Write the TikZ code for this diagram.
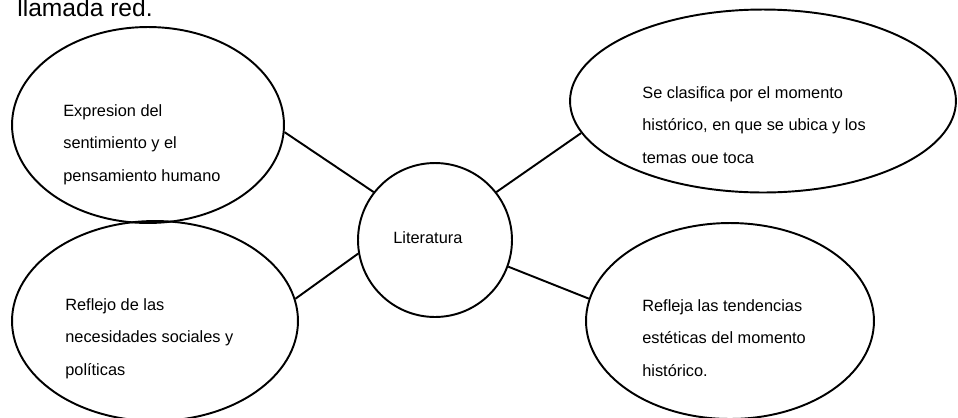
\documentclass[tikz,border=0pt]{standalone}
\usepackage{fontspec}
\setmainfont{Liberation Sans}
\usetikzlibrary{shapes.geometric}

\begin{document}
\begin{tikzpicture}[x=0.02cm, y=-0.02cm,
	burbuja/.style={draw, ellipse, line width=1.1pt, inner sep=0pt},
	texto/.style={anchor=base west, align=left, inner sep=0pt, font=\fontsize{9.3}{18.5}\selectfont},
	enlace/.style={line width=1.1pt}]
			\useasboundingbox (0,0) rectangle (958,417);

			\node[anchor=base west, inner sep=0pt, font=\fontsize{14}{16}\selectfont] (titulo) at (17,16) {llamada red.};

			\node[burbuja, minimum width=5.44cm, minimum height=3.92cm] (expresion) at (148,125) {};
			\node[burbuja, minimum width=5.72cm, minimum height=4cm] (reflejo) at (155,321) {};
			\node[burbuja, circle, minimum size=3.08cm] (lit) at (435,240) {};
			\node[burbuja, minimum width=7.72cm, minimum height=3.66cm] (clasifica) at (763,101) {};
			\node[burbuja, minimum width=5.76cm, minimum height=3.92cm] (refleja) at (730,321) {};

			\node[texto] (expresiontxt) at (63,181) {Expresion del\\sentimiento y el\\pensamiento humano};
			\node[texto] (reflejotxt) at (65,375) {Reflejo de las\\necesidades sociales y\\políticas};
			\node[texto] (littxt) at (393,243) {Literatura};
			\node[texto] (clasificatxt) at (642,163) {Se clasifica por el momento\\histórico, en que se ubica y los\\temas oue toca};
			\node[texto] (reflejatxt) at (642,376) {Refleja las tendencias\\estéticas del momento\\histórico.};

			\draw[enlace] (expresion.-3) -- (lit.142);
			\draw[enlace] (clasifica.190) -- (lit.38);
			\draw[enlace] (reflejo.9) -- (lit.190);
			\draw[enlace] (refleja.171) -- (lit.-20);
		\end{tikzpicture}
\end{document}
